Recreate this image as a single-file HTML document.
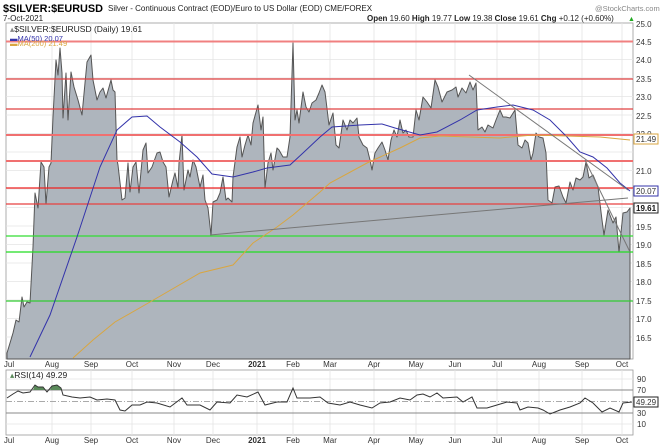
<!DOCTYPE html>
<html><head><meta charset="utf-8"><style>
body{margin:0;background:#fff;}
svg{display:block;font-family:"Liberation Sans",sans-serif;}
</style></head><body>
<svg width="660" height="447" viewBox="0 0 660 447" xmlns="http://www.w3.org/2000/svg">
<rect width="660" height="447" fill="#fff"/>
<text x="3" y="12" font-size="11" font-weight="bold" textLength="100" lengthAdjust="spacingAndGlyphs">$SILVER:$EURUSD</text>
<text x="108" y="11" font-size="8" fill="#222">Silver - Continuous Contract (EOD)/Euro to US Dollar (EOD)  CME/FOREX</text>
<text x="595" y="11" font-size="7.5" fill="#888">@StockCharts.com</text>
<text x="3" y="21" font-size="8" fill="#222">7-Oct-2021</text>
<text x="367" y="21" font-size="8" fill="#222"><tspan font-weight="bold">Open</tspan> 19.60  <tspan font-weight="bold">High</tspan> 19.77  <tspan font-weight="bold">Low</tspan> 19.38  <tspan font-weight="bold">Close</tspan> 19.61  <tspan font-weight="bold">Chg</tspan> +0.12 (+0.60%)</text>
<text x="628" y="21" font-size="7" fill="#2a2">▲</text>
<rect x="6" y="23" width="627" height="336" fill="#fff" stroke="#999" stroke-width="0.8"/>
<g stroke="#e4e4e4" stroke-width="0.8">
<line x1="6" x2="633" y1="41" y2="41"/><line x1="6" x2="633" y1="59.5" y2="59.5"/><line x1="6" x2="633" y1="78" y2="78"/><line x1="6" x2="633" y1="96.5" y2="96.5"/><line x1="6" x2="633" y1="115" y2="115"/><line x1="6" x2="633" y1="133.5" y2="133.5"/><line x1="6" x2="633" y1="152" y2="152"/><line x1="6" x2="633" y1="170.5" y2="170.5"/><line x1="6" x2="633" y1="189" y2="189"/><line x1="6" x2="633" y1="207.5" y2="207.5"/><line x1="6" x2="633" y1="226" y2="226"/><line x1="6" x2="633" y1="244.5" y2="244.5"/><line x1="6" x2="633" y1="263" y2="263"/><line x1="6" x2="633" y1="281.5" y2="281.5"/><line x1="6" x2="633" y1="300" y2="300"/><line x1="6" x2="633" y1="318.5" y2="318.5"/><line x1="6" x2="633" y1="337" y2="337"/>
<line y1="23" y2="359" x1="52" x2="52"/><line y1="23" y2="359" x1="91" x2="91"/><line y1="23" y2="359" x1="132" x2="132"/><line y1="23" y2="359" x1="174" x2="174"/><line y1="23" y2="359" x1="213" x2="213"/><line y1="23" y2="359" x1="257" x2="257"/><line y1="23" y2="359" x1="293" x2="293"/><line y1="23" y2="359" x1="330" x2="330"/><line y1="23" y2="359" x1="374" x2="374"/><line y1="23" y2="359" x1="416" x2="416"/><line y1="23" y2="359" x1="455" x2="455"/><line y1="23" y2="359" x1="497" x2="497"/><line y1="23" y2="359" x1="539" x2="539"/><line y1="23" y2="359" x1="582" x2="582"/><line y1="23" y2="359" x1="622" x2="622"/>
</g>
<polygon fill="#aeb5bd" stroke="#555" stroke-width="1" stroke-linejoin="round" points="7,359 7,353 13,333 16,320 19,322 22,297 24,307 27,302 30,303 33,247 35,193 38,208 41,162 44,167 46,204 49,167 51,163 53,117 56,60 58,75 60,48 62,73 63,118 66,73 68,120 71,72 74,87 78,100 82,115 85,83 87,62 91,55 93,80 97,100 100,92 103,88 106,98 111,80 113,90 115,92 117,160 118,165 122,200 125,198 128,163 130,192 133,167 136,162 139,193 143,150 146,143 148,173 152,167 157,153 160,152 163,162 166,167 169,197 173,180 175,173 178,188 179,163 182,135 184,190 188,170 190,177 193,160 196,167 200,187 203,175 205,200 208,208 211,235 213,202 217,200 220,193 223,177 226,200 228,198 232,202 233,177 237,147 240,137 242,157 245,145 248,135 251,145 253,123 258,105 261,130 263,117 265,188 268,163 271,153 273,170 277,148 279,150 283,157 287,157 290,137 293,43 295,120 297,110 299,123 303,92 306,107 309,112 312,103 316,100 319,93 322,85 325,92 329,125 333,113 336,145 339,148 343,120 347,130 350,120 353,123 357,118 359,137 363,145 367,148 370,160 372,170 375,153 378,148 382,142 385,150 388,160 391,140 394,130 397,137 400,120 403,133 406,130 409,137 413,137 416,110 419,120 423,97 427,102 431,108 435,80 438,87 442,102 447,92 452,90 456,87 458,97 462,88 466,93 470,82 473,90 476,83 478,130 482,127 485,132 488,125 493,128 496,120 500,110 503,117 506,117 510,118 515,110 518,145 522,148 525,140 528,143 531,160 533,153 536,133 539,137 543,138 546,153 548,200 552,203 555,187 559,186 563,197 566,203 570,182 573,190 576,178 580,180 583,177 586,162 589,178 593,175 598,187 602,220 604,235 608,210 613,223 616,217 619,252 623,213 627,212 630,208 630,359"/>
<g stroke-width="1.2">
<line x1="6" x2="633" y1="41.5" y2="41.5" stroke="#f08080" stroke-width="2"/>
<line x1="6" x2="633" y1="79" y2="79" stroke="#e04040"/>
<line x1="6" x2="633" y1="109" y2="109" stroke="#e04040"/>
<line x1="6" x2="633" y1="135" y2="135" stroke="#f07070" stroke-width="2"/>
<line x1="6" x2="633" y1="161" y2="161" stroke="#f07070" stroke-width="2"/>
<line x1="6" x2="633" y1="188" y2="188" stroke="#ee2020"/>
<line x1="6" x2="633" y1="204" y2="204" stroke="#e84040"/>
<line x1="6" x2="633" y1="236" y2="236" stroke="#33dd33"/>
<line x1="6" x2="633" y1="252" y2="252" stroke="#22dd22"/>
<line x1="6" x2="633" y1="301" y2="301" stroke="#33cc33"/>
</g>
<polyline fill="none" stroke="#3333aa" stroke-width="1" points="30,357 50,315 77,237 100,167 117,130 132,117 147,116 160,127 180,142 197,157 212,174 233,177 253,172 267,168 290,165 303,153 320,137 332,127 360,125 382,124 395,128 420,135 437,132 460,120 477,110 497,107 513,105 533,110 550,120 567,137 580,152 593,157 607,168 620,183 630,191"/>
<polyline fill="none" stroke="#d9a640" stroke-width="1" points="73,358 93,340 115,322 150,302 200,273 233,265 253,243 277,227 293,215 320,192 330,183 367,163 400,148 420,138 440,136 500,138 533,135 600,137 630,140"/>
<g stroke="#777" stroke-width="1">
<line x1="469" y1="75" x2="628" y2="190"/>
<line x1="585" y1="160" x2="630" y2="252"/>
<line x1="210" y1="235" x2="628" y2="198"/>
</g>
<text x="10" y="32" font-size="8.5" fill="#222"><tspan fill="#888">▴</tspan>$SILVER:$EURUSD (Daily) 19.61</text>
<text x="10" y="41" font-size="7.5" fill="#3333aa">▬MA(50) 20.07</text>
<text x="10" y="46" font-size="7.5" fill="#d9a640">▬MA(200) 21.49</text>
<g font-size="8" fill="#333">
<text x="636" y="27">25.0</text><text x="636" y="45">24.5</text><text x="636" y="63">24.0</text><text x="636" y="82">23.5</text><text x="636" y="100">23.0</text><text x="636" y="119">22.5</text><text x="636" y="137">22.0</text><text x="636" y="174">21.0</text><text x="636" y="193">20.5</text><text x="636" y="230">19.5</text><text x="636" y="248">19.0</text><text x="636" y="267">18.5</text><text x="636" y="285">18.0</text><text x="636" y="304">17.5</text><text x="636" y="322">17.0</text><text x="636" y="341">16.5</text>
</g>
<rect x="634" y="134" width="24" height="10" fill="#fff" stroke="#d9a640"/><text x="636" y="142" font-size="8" fill="#333">21.49</text>
<rect x="634" y="186" width="24" height="10" fill="#fff" stroke="#3333aa"/><text x="636" y="194" font-size="8" fill="#333">20.07</text>
<rect x="634" y="203" width="24" height="10" fill="#fff" stroke="#222"/><text x="636" y="211" font-size="8" font-weight="bold" fill="#111">19.61</text>
<g font-size="8" fill="#333" text-anchor="middle">
<text x="9" y="367">Jul</text><text x="52" y="367">Aug</text><text x="91" y="367">Sep</text><text x="132" y="367">Oct</text><text x="174" y="367">Nov</text><text x="213" y="367">Dec</text><text x="257" y="367" font-weight="bold">2021</text><text x="293" y="367">Feb</text><text x="330" y="367">Mar</text><text x="374" y="367">Apr</text><text x="416" y="367">May</text><text x="455" y="367">Jun</text><text x="497" y="367">Jul</text><text x="539" y="367">Aug</text><text x="582" y="367">Sep</text><text x="622" y="367">Oct</text>
<text x="9" y="443">Jul</text><text x="52" y="443">Aug</text><text x="91" y="443">Sep</text><text x="132" y="443">Oct</text><text x="174" y="443">Nov</text><text x="213" y="443">Dec</text><text x="257" y="443" font-weight="bold">2021</text><text x="293" y="443">Feb</text><text x="330" y="443">Mar</text><text x="374" y="443">Apr</text><text x="416" y="443">May</text><text x="455" y="443">Jun</text><text x="497" y="443">Jul</text><text x="539" y="443">Aug</text><text x="582" y="443">Sep</text><text x="622" y="443">Oct</text>
</g>
<rect x="6" y="370" width="627" height="65" fill="#fff" stroke="#999" stroke-width="0.8"/>
<g stroke="#e4e4e4" stroke-width="0.8">
<line x1="6" x2="633" y1="379" y2="379"/><line x1="6" x2="633" y1="424" y2="424"/>
<line y1="370" y2="435" x1="52" x2="52"/><line y1="370" y2="435" x1="91" x2="91"/><line y1="370" y2="435" x1="132" x2="132"/><line y1="370" y2="435" x1="174" x2="174"/><line y1="370" y2="435" x1="213" x2="213"/><line y1="370" y2="435" x1="257" x2="257"/><line y1="370" y2="435" x1="293" x2="293"/><line y1="370" y2="435" x1="330" x2="330"/><line y1="370" y2="435" x1="374" x2="374"/><line y1="370" y2="435" x1="416" x2="416"/><line y1="370" y2="435" x1="455" x2="455"/><line y1="370" y2="435" x1="497" x2="497"/><line y1="370" y2="435" x1="539" x2="539"/><line y1="370" y2="435" x1="582" x2="582"/><line y1="370" y2="435" x1="622" x2="622"/>
</g>
<line x1="6" x2="633" y1="390" y2="390" stroke="#888" stroke-width="1"/>
<line x1="6" x2="633" y1="413" y2="413" stroke="#888" stroke-width="1"/>
<line x1="6" x2="633" y1="401.5" y2="401.5" stroke="#aaa" stroke-width="1" stroke-dasharray="6,2,1,2"/>
<polygon fill="#5a8a5a" points="33,390 35,385 38,387 43,387 46,390"/>
<polygon fill="#5a8a5a" points="50,390 52,386 57,385 61,388 62,390"/>
<polyline fill="none" stroke="#333" stroke-width="1" points="7,398 13,394 18,391 23,393 30,392 35,385 38,387 43,387 47,392 52,386 57,385 61,388 63,395 72,397 80,398 90,397 97,400 107,399 115,400 120,410 125,411 132,405 140,405 147,402 157,403 170,407 182,398 187,405 200,405 210,410 217,402 230,403 237,395 247,397 258,392 265,405 277,402 287,402 293,388 297,398 310,398 320,397 328,403 340,405 350,402 360,405 372,408 380,403 390,402 400,398 410,400 417,395 423,394 430,397 437,393 443,398 457,397 463,402 472,397 477,408 487,408 497,405 507,402 517,403 520,410 528,407 538,408 543,410 550,414 560,410 570,407 580,403 585,398 593,403 602,412 610,408 619,412 623,403 632,402"/>
<text x="10" y="378" font-size="8.5" fill="#222"><tspan fill="#5a8a5a">▴</tspan>RSI(14) 49.29</text>
<g font-size="8" fill="#333">
<text x="637" y="382">90</text><text x="637" y="393">70</text><text x="637" y="416">30</text><text x="637" y="427">10</text>
</g>
<rect x="634" y="397" width="24" height="10" fill="#fff" stroke="#222"/><text x="636" y="405" font-size="8" fill="#333">49.29</text>
</svg>
</body></html>
